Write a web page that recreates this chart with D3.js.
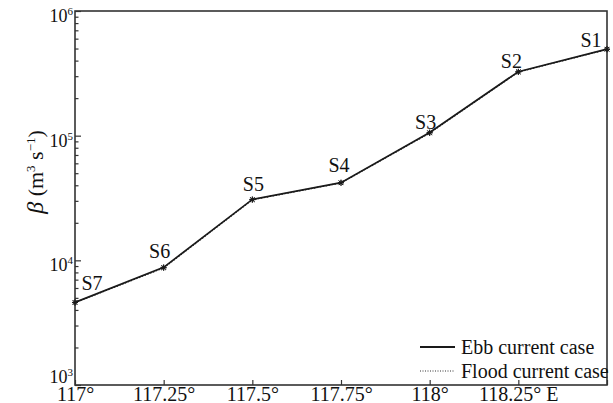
<!DOCTYPE html>
<html>
<head>
<meta charset="utf-8">
<script src="https://cdn.jsdelivr.net/npm/d3@7"></script>
<style>
  body { margin: 0; background: #fff; }
  svg text { font-family: "Liberation Serif", "DejaVu Serif", serif; fill: #111; }
</style>
</head>
<body>
<div id="vis"></div>
<script>
const FRAME_WIDTH = 613;
const FRAME_HEIGHT = 403;
const MARGINS = {left: 75, right: 6, top: 11, bottom: 18};
const VIS_WIDTH = FRAME_WIDTH - MARGINS.left - MARGINS.right;
const VIS_HEIGHT = FRAME_HEIGHT - MARGINS.top - MARGINS.bottom;
const FONT = "Liberation Serif, DejaVu Serif, serif";

// data
const stations = ["S1", "S2", "S3", "S4", "S5", "S6", "S7"];
const longitudes = [118.5, 118.25, 118, 117.75, 117.5, 117.25, 117];
const ebbBeta = [495000, 326000, 106000, 42000, 30800, 8790, 4600];
const floodBeta = [492000, 324000, 105000, 41800, 30600, 8700, 4580];

const xTicks = [117, 117.25, 117.5, 117.75, 118, 118.25, 118.5];
const xTickLabels = ["117°", "117.25°", "117.5°", "117.75°", "118°", "118.25° E", ""];
const yMajor = [1e3, 1e4, 1e5, 1e6];
const yExponents = ["3", "4", "5", "6"];

const svg = d3.select("#vis")
  .append("svg")
    .attr("width", FRAME_WIDTH)
    .attr("height", FRAME_HEIGHT)
    .attr("font-family", FONT);

const X_SCALE = d3.scaleLinear()
  .domain([117, 118.5])
  .range([0, VIS_WIDTH]);

const Y_SCALE = d3.scaleLog()
  .domain([1e3, 1e6])
  .range([VIS_HEIGHT, 0]);

const g = svg.append("g")
  .attr("transform", "translate(" + MARGINS.left + "," + MARGINS.top + ")");

// minor + major y ticks, pointing inward
let yMinor = [];
yMajor.slice(0, 3).forEach((m) => {
  for (let k = 2; k <= 9; k++) yMinor.push(m * k);
});

const yAxis = g.append("g")
  .call(d3.axisLeft(Y_SCALE).tickValues(yMinor.concat(yMajor)).tickSize(-3.5).tickFormat(""));
yAxis.select(".domain").remove();
yAxis.selectAll(".tick line")
  .attr("stroke", "#333")
  .attr("stroke-width", 1.2)
  .filter((d) => yMajor.includes(d))
    .attr("x2", 6);

// y tick labels with superscripts
yMajor.forEach((v, i) => {
  const t = g.append("text")
    .attr("x", -2)
    .attr("y", Y_SCALE(v) + (i === 0 ? -2 : 11))
    .attr("text-anchor", "end")
    .attr("font-family", FONT)
    .attr("font-size", 18);
  t.append("tspan").text("10");
  t.append("tspan").attr("font-size", 11).attr("dy", -7).text(yExponents[i]);
});

// x axis ticks inward
const xAxis = g.append("g")
  .attr("transform", "translate(0," + VIS_HEIGHT + ")")
  .call(d3.axisBottom(X_SCALE).tickValues(xTicks).tickSize(-5).tickFormat((d, i) => xTickLabels[i]))
  .attr("font-family", FONT);
xAxis.select(".domain").remove();
xAxis.selectAll(".tick line").attr("stroke", "#333").attr("stroke-width", 1.2);
xAxis.selectAll(".tick text")
  .attr("y", 2)
  .attr("dy", "0.71em")
  .attr("font-size", 20)
  .attr("fill", "#111");

// frame
g.append("rect")
  .attr("width", VIS_WIDTH)
  .attr("height", VIS_HEIGHT)
  .attr("fill", "none")
  .attr("stroke", "#333")
  .attr("stroke-width", 1.6);

const rows = stations.map((s, i) => ({s: s, lon: longitudes[i], ebb: ebbBeta[i], flood: floodBeta[i]}));

const line = (key) => d3.line()
  .x((d) => X_SCALE(d.lon))
  .y((d) => Y_SCALE(d[key]));

g.append("path")
  .datum(rows)
  .attr("d", line("flood"))
  .attr("fill", "none")
  .attr("stroke", "#222")
  .attr("stroke-width", 1.3)
  .attr("stroke-dasharray", "1.5,1.5");

g.append("path")
  .datum(rows)
  .attr("d", line("ebb"))
  .attr("fill", "none")
  .attr("stroke", "#1a1a1a")
  .attr("stroke-width", 1.7);

// asterisk markers
const star = "M-3,0L3,0M0,-3L0,3M-2.2,-2.2L2.2,2.2M-2.2,2.2L2.2,-2.2";
["ebb", "flood"].forEach((key) => {
  g.selectAll(".m-" + key)
    .data(rows)
    .enter()
    .append("path")
      .attr("class", "m-" + key)
      .attr("transform", (d) => "translate(" + X_SCALE(d.lon) + "," + Y_SCALE(d[key]) + ")")
      .attr("d", star)
      .attr("stroke", "#1a1a1a")
      .attr("stroke-width", 1);
});

// station labels
const labelOffset = {
  S1: [-16, -2], S2: [-7, -4], S3: [-4, -4], S4: [-2, -11],
  S5: [1, -8], S6: [-4, -9], S7: [17, -12]
};
g.selectAll(".lab")
  .data(rows)
  .enter()
  .append("text")
    .attr("class", "lab")
    .attr("x", (d) => X_SCALE(d.lon) + labelOffset[d.s][0])
    .attr("y", (d) => Y_SCALE(d.ebb) + labelOffset[d.s][1])
    .attr("text-anchor", "middle")
    .attr("font-size", 20)
    .text((d) => d.s);

// y label
const yl = svg.append("text")
  .attr("transform", "translate(43,172) rotate(-90)")
  .attr("text-anchor", "middle")
  .attr("font-size", 22);
yl.append("tspan").attr("font-style", "italic").attr("font-size", 24).text("β");
yl.append("tspan").text(" (m");
yl.append("tspan").attr("font-size", 13).attr("dy", -8).text("3");
yl.append("tspan").attr("dy", 8).text(" s");
yl.append("tspan").attr("font-size", 13).attr("dy", -8).text("−1");
yl.append("tspan").attr("dy", 8).text(")");

// legend
const legend = svg.append("g").attr("transform", "translate(420,347)");
legend.append("line").attr("x1", 0).attr("x2", 35).attr("y1", 0).attr("y2", 0)
  .attr("stroke", "#1a1a1a").attr("stroke-width", 1.8);
legend.append("text").attr("x", 41).attr("y", 7).attr("font-size", 20).text("Ebb current case");
legend.append("line").attr("x1", 0).attr("x2", 35).attr("y1", 24).attr("y2", 24)
  .attr("stroke", "#333").attr("stroke-width", 1).attr("stroke-dasharray", "1,1.5");
legend.append("text").attr("x", 41).attr("y", 31).attr("font-size", 20).text("Flood current case");
</script>
</body>
</html>
